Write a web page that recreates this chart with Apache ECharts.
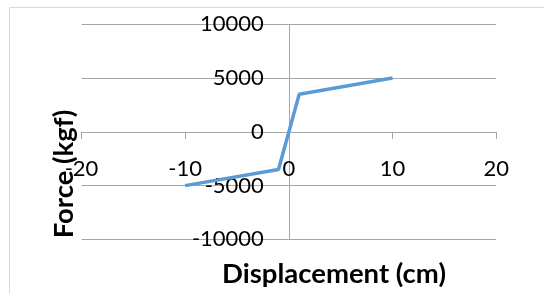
<!DOCTYPE html>
<html>
<head>
<meta charset="utf-8">
<script src="https://cdn.jsdelivr.net/npm/echarts@6/dist/echarts.min.js"></script>
<style>
  html, body { margin: 0; padding: 0; background: #fff; }
  #chart { width: 544px; height: 294px; }
</style>
</head>
<body>
<div id="chart"></div>
<script>
// 数据
const displacement = [-10, -1, 1, 10];
const force = [-5000, -3500, 3500, 5000];
const xTicks = [-20, 20, 10];      // min, max, interval
const yTicks = [-10000, 10000, 5000];

const FONT = "Lato";
// 布局
const GRID = { left: 81.5, right: 47.8, top: 24.3, bottom: 54.6 };
const plotW = 544 - GRID.left - GRID.right;
const plotH = 294 - GRID.top - GRID.bottom;

const chart = echarts.init(document.getElementById("chart"));
const option = {
  animation: false,
  grid: GRID,
  xAxis: {
    type: "value",
    min: xTicks[0],
    max: xTicks[1],
    interval: xTicks[2],
    offset: -plotH / 2, // 轴放在 y=0 处
    axisLine: { show: true, onZero: false, lineStyle: { color: "#a6a6a6", width: 1 } },
    axisTick: { show: true, inside: false, length: 7, lineStyle: { color: "#a6a6a6" } },
    axisLabel: { margin: 26, color: "#000", fontSize: 22, fontFamily: FONT, formatter: (v) => String(v) },
    splitLine: { show: false },
  },
  yAxis: {
    type: "value",
    min: yTicks[0],
    max: yTicks[1],
    interval: yTicks[2],
    offset: -plotW / 2, // 轴放在 x=0 处
    axisLine: { show: true, onZero: false, lineStyle: { color: "#a6a6a6", width: 1 } },
    axisTick: { show: false },
    axisLabel: { margin: 25, color: "#000", fontSize: 22, fontFamily: FONT, formatter: (v) => String(v) },
    splitLine: { show: true, lineStyle: { color: "#a6a6a6", width: 1 } },
  },
  series: [
    {
      type: "line",
      data: displacement.map((x, i) => [x, force[i]]),
      showSymbol: false,
      lineStyle: { color: "#5b9bd5", width: 3.5 },
      z: 5,
    },
  ],
  graphic: [
    {
      type: "rect",
      shape: { x: 9.5, y: 7.5, width: 600, height: 400 },
      style: { fill: "none", stroke: "#d9d9d9", lineWidth: 1 },
      silent: true,
      z: -10,
    },
    {
      type: "text",
      x: 64,
      y: 174,
      rotation: Math.PI / 2,
      style: {
        text: "Force (kgf)",
        font: "bold 27.5px " + FONT,
        fill: "#000",
        align: "center",
        verticalAlign: "middle",
      },
      z: 10,
    },
    {
      type: "text",
      x: 334,
      y: 274,
      style: {
        text: "Displacement (cm)",
        font: "bold 27.5px " + FONT,
        fill: "#000",
        align: "center",
        verticalAlign: "middle",
      },
    },
  ],
};
chart.setOption(option);
</script>
</body>
</html>
